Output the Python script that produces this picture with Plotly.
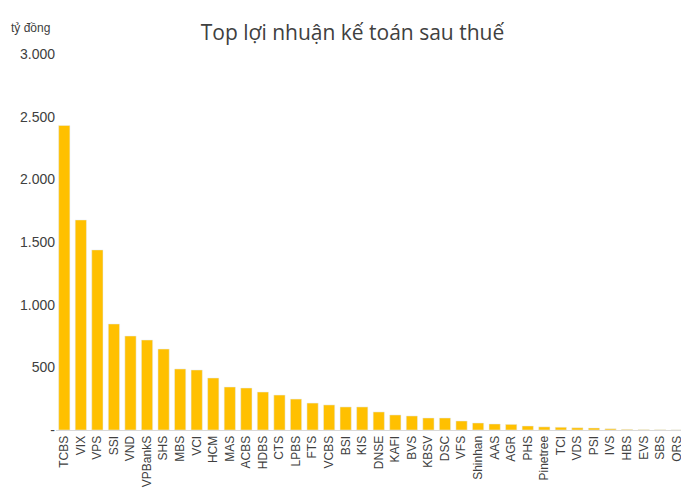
import plotly.graph_objects as go

companies = ["TCBS","VIX","VPS","SSI","VND","VPBankS","SHS","MBS","VCI","HCM","MAS","ACBS","HDBS","CTS","LPBS","FTS","VCBS","BSI","KIS","DNSE","KAFI","BVS","KBSV","DSC","VFS","Shinhan","AAS","AGR","PHS","Pinetree","TCI","VDS","PSI","IVS","HBS","EVS","SBS","ORS"]
profits = [2430,1676,1437,846,750,718,646,487,479,415,343,335,303,279,247,215,200,184,184,144,120,112,96,96,72,56,48,45,32,25,22,18,16,10,5,3,2,1]
tick_vals = [0,500,1000,1500,2000,2500,3000]
tick_text = ["-","500","1.000","1.500","2.000","2.500","3.000"]

fig = go.Figure(go.Bar(x=companies, y=profits, marker_color="#FFC000", width=0.68))
fig.update_layout(
    width=689, height=500, plot_bgcolor="white", paper_bgcolor="white",
    font=dict(family="Liberation Sans", color="#404040", size=13),
    title=dict(text="Top lợi nhuận kế toán sau thuế", x=0.5, y=0.965, xanchor="center",
               font=dict(family="Open Sans", size=21, color="#404040")),
    margin=dict(l=48, r=12, t=46, b=78), showlegend=False,
    annotations=[dict(text="tỷ đồng", xref="paper", yref="paper", x=-0.075, y=1.045,
                      xanchor="left", yanchor="bottom", showarrow=False, font=dict(size=12))],
)
fig.update_yaxes(range=[0,3000], tickvals=tick_vals, ticktext=tick_text, showgrid=False,
                 zeroline=False, showline=False, ticks="", tickfont=dict(size=14))
fig.update_xaxes(tickangle=-90, showline=True, linecolor="#d9d9d9", ticks="", tickfont=dict(size=12))
fig.write_html("out.html")
